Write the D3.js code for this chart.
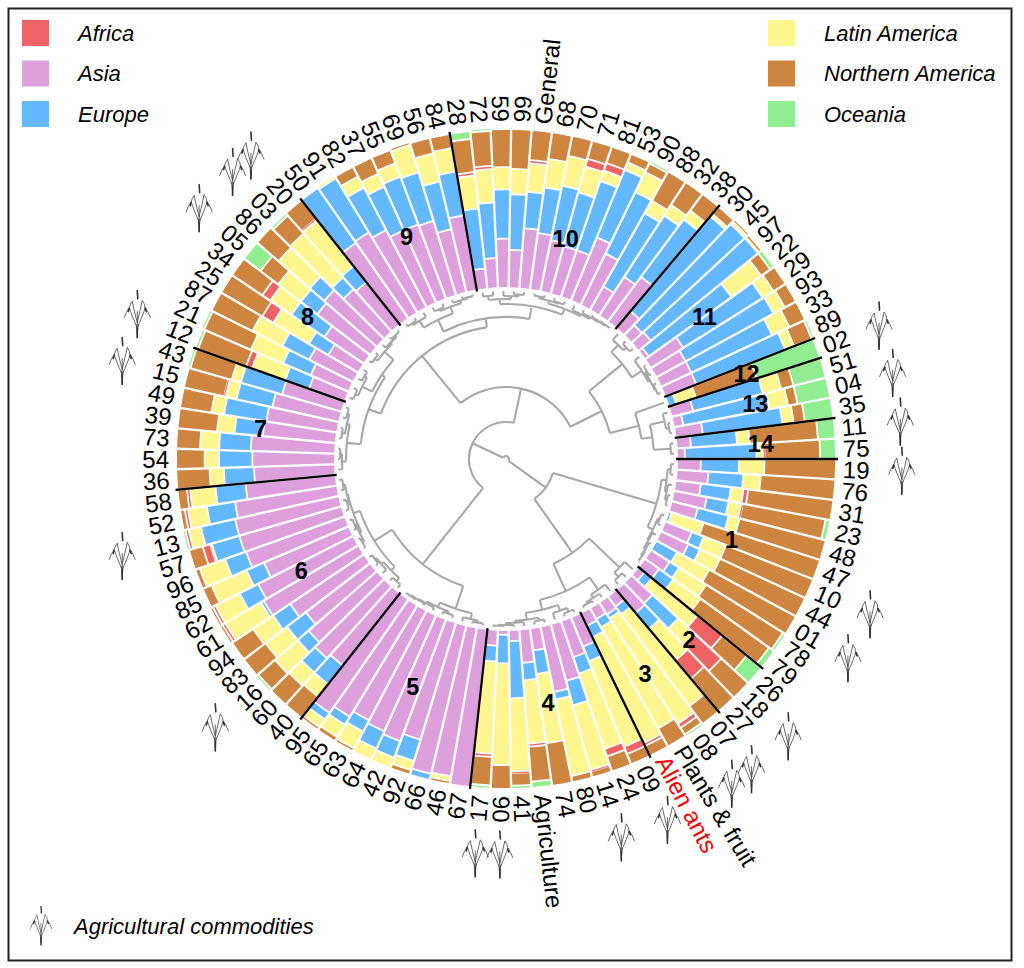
<!DOCTYPE html>
<html><head><meta charset="utf-8">
<script src="https://cdn.jsdelivr.net/npm/d3@7/dist/d3.min.js"></script>
<style>html,body{margin:0;padding:0;background:#fff}svg{display:block}text{font-family:"Liberation Sans",Arial,sans-serif}</style>
</head><body><svg id="c" width="1024" height="968"></svg>
<script>
const labels=["19","76","31","23","48","47","10","44","01","78","79","26","18","27","07","08","Plants & fruit","Alien ants","09","24","14","80","74","Agriculture","41","06","17","67","46","66","92","42","64","63","65","95","40","60","16","83","94","61","62","85","96","57","13","52","58","36","54","73","39","49","15","43","12","21","87","25","34","05","86","03","20","50","91","82","37","55","69","56","84","28","72","59","99","General","68","70","71","81","53","90","88","32","38","30","45","97","22","29","93","33","89","02","51","04","35","11","75"];
const asia=[15,20,16,21,17,0,18,19,0,14,11,5,18,19,8,9,8,9,20,24,37,42,14,21,7,3,10,100,95,96,77,82,80,78,82,87,58,61,57,51,56,69,67,58,66,67,67,65,57,51,52,53,46,45,43,39,24,26,31,22,30,42,44,36,34,58,59,55,50,50,49,41,48,13,19,31,24,38,36,33,31,31,43,36,17,29,35,14,9,10,3,24,21,21,21,0,14,6,17,9,5];
const europe=[24,22,19,14,20,2,8,8,15,7,11,6,22,13,6,3,6,8,10,11,16,5,15,11,36,18,10,0,0,4,14,11,12,8,6,5,15,12,9,15,13,2,13,12,14,18,22,18,19,19,21,20,18,27,23,27,16,19,19,14,25,13,12,10,13,42,40,30,30,32,32,31,28,38,35,31,35,23,29,35,35,46,46,43,53,46,45,78,88,87,64,59,63,56,60,5,45,55,50,29,45];
const latinAmerica=[16,11,8,8,7,21,15,14,23,20,21,37,14,26,72,79,73,74,58,50,42,49,44,40,46,64,58,0,3,0,6,7,8,12,9,6,10,11,19,17,15,26,17,24,17,1,8,12,16,9,9,12,11,8,7,6,22,22,21,26,16,18,26,37,37,0,1,8,9,9,18,18,15,21,21,14,16,18,18,19,17,7,5,14,9,8,7,2,2,1,23,8,8,12,6,13,12,12,7,8,4];
const africa=[0,0,3,1,0,0,0,0,0,0,0,20,23,15,0,3,0,2,5,5,1,0,0,2,1,0,2,0,0,0,0,0,0,0,0,0,0,0,0,0,0,2,2,0,0,5,2,2,2,0,0,0,0,0,1,0,4,0,0,8,6,0,0,0,1,0,0,0,0,0,0,0,0,2,2,0,0,2,0,0,5,5,0,0,0,0,0,0,0,0,0,0,0,0,0,0,0,0,0,0,1];
const northernAmerica=[45,47,54,53,56,77,59,59,62,57,53,20,23,27,14,5,13,7,7,10,4,4,27,22,8,15,18,0,2,0,3,0,0,2,3,2,17,16,14,17,16,1,1,6,3,9,0,3,6,21,18,15,25,20,26,27,32,32,29,30,23,14,18,15,15,0,0,7,11,9,1,10,9,21,22,24,25,19,17,13,12,11,6,6,21,17,13,6,1,2,7,9,8,11,12,40,8,6,7,43,35];
const oceania=[0,0,0,3,0,0,0,0,0,2,4,12,0,0,0,1,0,0,0,0,0,0,0,4,2,0,2,0,0,0,0,0,0,0,0,0,0,0,1,0,0,0,0,0,0,0,1,0,0,0,0,0,0,0,0,1,2,1,0,0,0,13,0,2,0,0,0,0,0,0,0,0,0,5,1,0,0,0,0,0,0,0,0,1,0,0,0,0,0,0,3,0,0,0,1,42,21,21,18,11,10];
const regionNames=["Asia","Europe","Latin America","Africa","Northern America","Oceania"];
const regionColors=["#DDA0DD","#63B8FF","#FFF68F","#EE6363","#CD853F","#90EE90"];
const groupSizes=[11,3,4,9,9,13,7,9,8,14,8,1,3,2];
const groupLabelLevels=[43,54,53,48,47,39,48,46,46,36,46,53,53,53];
const commodities=["02","04","11","19","10","01","18","07","08","09","14","06","17","16","13","15","12","05","03","20"];
const tree=[165,
 [131,
  [34,
   [10,[4,[2,"67","46"],"66"],[5,[3,"92","42"],[3,"64",[2,"63",[1,"65","95"]]]]],
   [13,[8,[4,"40","60"],[5,"16",[3,"83","94"]]],[6,[4,[2,"61","62"],[3,"85","96"]],[5,[3,"57","13"],[3,"52","58"]]]]],
  [96,
   [35,
    [22,
     [8,[4,"36",[2,"54","73"]],[5,[2,"39","49"],[3,"15","43"]]],
     [18,[7,[4,"12","21"],[4,"87","25"]],[6,[3,"34","05"],[4,"86",[2,"03","20"]]]]],
    [26,
     [13,[5,[3,"50","91"],"82"],[6,[4,"37","55"],[3,"69",[2,"56","84"]]]],
     [13,[8,[4,"28","72"],[5,"59",[3,"99","General"]]],[7,[4,[2,"68","70"],[3,"71","81"]],[5,"53",[3,"90",[2,"88",[1,"32","38"]]]]]]]],
   [61,
    [18,[8,"30",[4,"45","97"]],[6,"22",[4,[2,"29","93"],[3,"33","89"]]]],
    [31,"02",[20,[5,"51",[2,"04","35"]],[3,"11","75"]]]]]],
 [119,
  [11,[6,[3,"19","76"],[4,"31",[2,"23","48"]]],[5,[3,"47","10"],[4,"44",[2,"01",[1,"78","79"]]]]],
  [53,
   [11,"26",[5,"18","27"]],
   [23,
    [8,"07",[4,"08",[2,"Plants & fruit","Alien ants"]]],
    [13,[7,[3,"09","24"],"14"],[6,[3,"80","74"],[4,"Agriculture",[2,"41",[1,"06","17"]]]]]]]]];

const svg=d3.select("#c");
const cx=506,cy=459;
const root=svg.append("g").attr("transform",`translate(${cx},${cy})`);
const rad=d=>d*Math.PI/180;
const band=d3.scaleBand().domain(labels).range([rad(90),rad(450)]);
const radius=d3.scaleLinear().domain([0,1]).range([171,330]);
const heightR=d3.scaleLinear().domain([0,168]).range([168,0]);
const ang=l=>band(l)+band.bandwidth()/2;

// dendrogram
const h=d3.hierarchy(tree,d=>Array.isArray(d)?d.slice(1):null);
h.eachAfter(n=>{
  if(n.children){n.a=(n.children[0].a+n.children[n.children.length-1].a)/2;n.r=heightR(n.data[0]);}
  else{n.a=ang(n.data);n.r=heightR(0);}
});
const tp=d3.path();
h.each(n=>{
  if(n.parent){const p=d3.pointRadial(n.a,n.r),q=d3.pointRadial(n.a,n.parent.r);tp.moveTo(p[0],p[1]);tp.lineTo(q[0],q[1]);}
  if(n.children){
    const a0=n.children[0].a,a1=n.children[n.children.length-1].a;
    tp.moveTo(...d3.pointRadial(a0,n.r));
    tp.arc(0,0,n.r,a0-Math.PI/2,a1-Math.PI/2,false);
  }
});
root.append("path").attr("d",tp.toString()).attr("fill","none").attr("stroke","#A8A8A8").attr("stroke-width",2.1);

// stacked bars
const table=labels.map((l,i)=>({label:l,Asia:asia[i],Europe:europe[i],"Latin America":latinAmerica[i],Africa:africa[i],"Northern America":northernAmerica[i],Oceania:oceania[i]}));
const stack=d3.stack().keys(regionNames).offset(d3.stackOffsetExpand)(table);
const arc=d3.arc().padRadius(250).padAngle(2.3/250)
  .innerRadius(d=>radius(d[0])+0.9)
  .outerRadius(d=>Math.max(radius(d[1])-0.9,radius(d[0])+2))
  .startAngle(d=>band(d.data.label)).endAngle(d=>band(d.data.label)+band.bandwidth());
stack.forEach((s,k)=>{
  root.append("g").attr("fill",regionColors[k]).selectAll("path")
    .data(s.filter(d=>d[1]-d[0]>0)).join("path").attr("d",arc);
});

// group separators & numbers
let cum=0;
const sep=root.append("g").attr("stroke","#000").attr("stroke-width",2.3);
const gl=root.append("g");
groupSizes.forEach((n,i)=>{
  const start=band(labels[cum]);
  const p0=d3.pointRadial(start,radius(-0.006)),p1=d3.pointRadial(start,radius(1.012));
  sep.append("line").attr("x1",p0[0]).attr("y1",p0[1]).attr("x2",p1[0]).attr("y2",p1[1]);
  const mid=start+n*band.step()/2;
  const q=d3.pointRadial(mid,radius(groupLabelLevels[i]/100));
  gl.append("text").attr("x",q[0]).attr("y",q[1]).attr("dy","0.36em").attr("text-anchor","middle")
    .attr("font-weight","bold").attr("font-size",23.5).text(i+1);
  cum+=n;
});

// rim labels
root.append("g").selectAll("text").data(labels).join("text")
 .attr("font-size",24).attr("dy","0.36em")
 .attr("fill",d=>d==="Alien ants"?"#FF0000":"#000")
 .attr("text-anchor",d=>{const a=ang(d)*180/Math.PI-90;return (a>90&&a<270)?"end":"start";})
 .attr("transform",d=>{
   const a=ang(d)*180/Math.PI-90;const flip=a>90&&a<270;
   return `rotate(${a}) translate(${radius(1)+7},0)`+(flip?" rotate(180)":"");
 }).text(d=>d);

// wheat icon
function plant(g){
  g.append("path").attr("fill","none").attr("stroke","#444").attr("stroke-width",0.8)
   .attr("stroke-linecap","round")
   .attr("d","M0,23 L0,-3 M0,20 L-1,10 M0,20 L1,10 M0,13 Q-6,0 -8,-7 Q-11,-3 -13,3 M0,13 Q6,0 8,-7 Q11,-3 13,3 M0,8 Q-3,-3 -5,-13 M0,8 Q3,-5 5,-14 Q8,-11 8,-5 M-5,-13 Q-7,-11 -8,-7");
  g.append("path").attr("fill","none").attr("stroke","#333").attr("stroke-width",1.6)
   .attr("stroke-linecap","round").attr("d","M0,-24 L0.5,-16 M0,23 L0,14 M-8,-6 L-9,-3 M8,-6 L9,-3");
}
root.append("g").selectAll("g").data(commodities).join("g")
 .attr("transform",d=>{const p=d3.pointRadial(ang(d),radius(1)+66);return `translate(${p[0]},${p[1]})`;})
 .each(function(){plant(d3.select(this));});

// frame
svg.append("rect").attr("x",8.5).attr("y",8.5).attr("width",1003).attr("height",952).attr("fill","none").attr("stroke","#222").attr("stroke-width",2);

// legend
const legendLeft=["Africa","Asia","Europe"],legendRight=["Latin America","Northern America","Oceania"];
const leg=(names,xs,xt)=>names.forEach((n,i)=>{
  const y=33+i*40.5;
  svg.append("rect").attr("x",xs).attr("y",y-13).attr("width",27).attr("height",26).attr("fill",regionColors[regionNames.indexOf(n)]);
  svg.append("text").attr("x",xt).attr("y",y).attr("dy","0.36em").attr("font-style","italic").attr("font-size",22).text(n);
});
leg(legendLeft,22,78);leg(legendRight,768,824);
const li=svg.append("g").attr("transform","translate(41,926) scale(0.82)");plant(li);
svg.append("text").attr("x",74).attr("y",926).attr("dy","0.36em").attr("font-style","italic").attr("font-size",22).text("Agricultural commodities");
</script></body></html>
